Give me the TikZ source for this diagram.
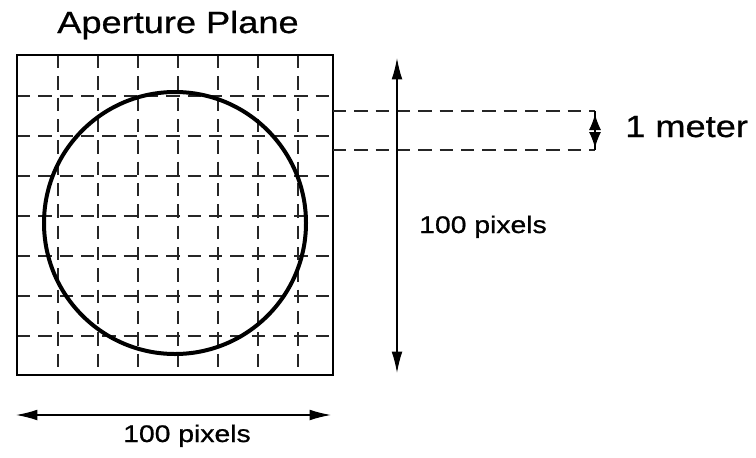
\documentclass[tikz,border=0pt]{standalone}
\usepackage{fontspec}
\setmainfont{Liberation Sans}[FakeStretch=1.18, FakeBold=0.8]
\usetikzlibrary{arrows.meta}

\begin{document}
\begin{tikzpicture}[x=0.75pt, y=-0.75pt,
  gridline/.style={draw=black!85, line width=0.8pt, dash pattern=on 10pt off 6pt},
  bigarrow/.style={line width=0.9pt, {Latex[length=16pt, width=8pt]}-{Latex[length=16pt, width=8pt]}},
  label/.style={anchor=base west, inner sep=0pt, font=\fontsize{18}{21}\selectfont}]
  \useasboundingbox (0,0) rectangle (756,457);

  % aperture square and sampling grid
  \coordinate (sqa) at (17,55);
  \coordinate (sqb) at (333,375);
  \foreach \x in {58,98,...,298}
    \draw[gridline] (\x,55) -- (\x,375);
  \foreach \y in {96,136,...,336}
    \draw[gridline] (17,\y) -- (333,\y);
  \draw[line width=1.9pt] (sqa) rectangle (sqb);
  \node (dish) [circle, draw, line width=3pt, minimum size=262*0.75pt,
               inner sep=0pt] at (175,223) {};

  \node (title) [anchor=base, inner sep=0pt, font=\fontsize{23}{27}\selectfont]
                at (178,33) {Aperture Plane};

  % one meter cell
  \coordinate (ma) at (333,111);
  \coordinate (mb) at (333,150);
  \coordinate (mc) at (595,111);
  \coordinate (md) at (595,150);
  \draw[gridline] (ma) -- (mc);
  \draw[gridline] (mb) -- (md);
  \draw[line width=0.9pt] (mc) -- (md);
  \coordinate (mtop) at (595,114);
  \coordinate (mbot) at (595,148);
  \draw[line width=0.9pt, {Latex[length=12pt, width=9pt]}-{Latex[length=12pt, width=9pt]}]
       (mtop) -- (mbot);
  \node (meter) [anchor=base west, inner sep=0pt, font=\fontsize{23}{27}\selectfont]
                at (625,137) {1 meter};

  % sizes
  \coordinate (vtop) at (397,58);
  \coordinate (vbot) at (397,373);
  \draw[bigarrow] (vtop) -- (vbot);
  \node (vsize) [label] at (419,233) {100 pixels};

  \coordinate (hleft) at (16,415);
  \coordinate (hright) at (331,415);
  \draw[bigarrow] (hleft) -- (hright);
  \node (hsize) [label, anchor=base] at (187,442) {100 pixels};
\end{tikzpicture}
\end{document}
